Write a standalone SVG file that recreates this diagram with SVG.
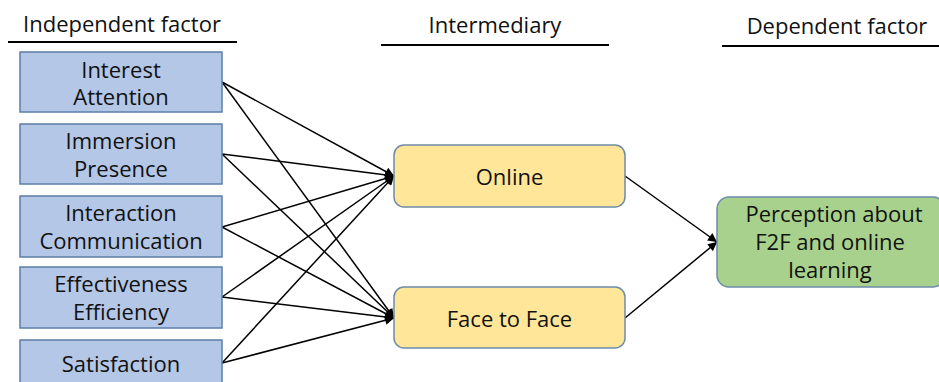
<svg xmlns="http://www.w3.org/2000/svg" width="939" height="382" viewBox="0 0 939 382">
<style>
text{font-family:"Open Sans","Noto Sans","DejaVu Sans",sans-serif;font-size:22px;fill:#111;text-anchor:middle}
.ind{fill:#B4C7E7;stroke:#5B7FA8;stroke-width:1.5}
.mid{fill:#FFE699;stroke:#6E8BAA;stroke-width:1.5}
.dep{fill:#A9D18E;stroke:#6E8BAA;stroke-width:1.5}
.hdr{stroke:#000;stroke-width:2}
.c{stroke:#000;stroke-width:1.5;fill:none;marker-end:url(#ah)}
</style>
<defs>
<marker id="ah" viewBox="0 0 10 10" refX="10" refY="5" markerWidth="10" markerHeight="9" markerUnits="userSpaceOnUse" orient="auto">
<path d="M0,0 L10,5 L0,10 z" fill="#000"/>
</marker>
</defs>
<rect width="939" height="382" fill="#fff"/>
<g id="headers">
<text x="122" y="32">Independent factor</text>
<line class="hdr" x1="8" y1="42" x2="237" y2="42"/>
<text x="495" y="33">Intermediary</text>
<line class="hdr" x1="381" y1="45" x2="609" y2="45"/>
<text x="837" y="34">Dependent factor</text>
<line class="hdr" x1="722" y1="46" x2="939" y2="46"/>
</g>
<g id="connectors">
<line class="c" x1="222" y1="82" x2="394" y2="176"/>
<line class="c" x1="222" y1="82" x2="394" y2="318"/>
<line class="c" x1="222" y1="154" x2="394" y2="176"/>
<line class="c" x1="222" y1="154" x2="394" y2="318"/>
<line class="c" x1="222" y1="227" x2="394" y2="176"/>
<line class="c" x1="222" y1="227" x2="394" y2="318"/>
<line class="c" x1="222" y1="297" x2="394" y2="176"/>
<line class="c" x1="222" y1="297" x2="394" y2="318"/>
<line class="c" x1="222" y1="363" x2="394" y2="176"/>
<line class="c" x1="222" y1="363" x2="394" y2="318"/>
<line class="c" x1="625" y1="176" x2="717" y2="242"/>
<line class="c" x1="625" y1="318" x2="717" y2="242"/>
</g>
<g id="interest">
<rect class="ind" x="20" y="52" width="202" height="60"/>
<text x="121" y="78">Interest</text>
<text x="121" y="105">Attention</text>
</g>
<g id="immersion">
<rect class="ind" x="20" y="124" width="202" height="60"/>
<text x="121" y="149">Immersion</text>
<text x="121" y="177">Presence</text>
</g>
<g id="interaction">
<rect class="ind" x="20" y="196" width="202" height="61"/>
<text x="121" y="221">Interaction</text>
<text x="121" y="249">Communication</text>
</g>
<g id="effectiveness">
<rect class="ind" x="20" y="267" width="202" height="61"/>
<text x="121" y="292">Effectiveness</text>
<text x="121" y="320">Efficiency</text>
</g>
<g id="satisfaction">
<rect class="ind" x="20" y="340" width="202" height="60"/>
<text x="121" y="372">Satisfaction</text>
</g>
<g id="online">
<rect class="mid" x="394" y="145" width="231" height="62" rx="10"/>
<text x="509.5" y="185">Online</text>
</g>
<g id="f2f">
<rect class="mid" x="394" y="287" width="231" height="61" rx="10"/>
<text x="509.5" y="327">Face to Face</text>
</g>
<g id="perception">
<rect class="dep" x="717" y="197" width="228" height="90" rx="12"/>
<text x="834" y="222">Perception about</text>
<text x="830" y="250">F2F and online</text>
<text x="830" y="278">learning</text>
</g>
</svg>
